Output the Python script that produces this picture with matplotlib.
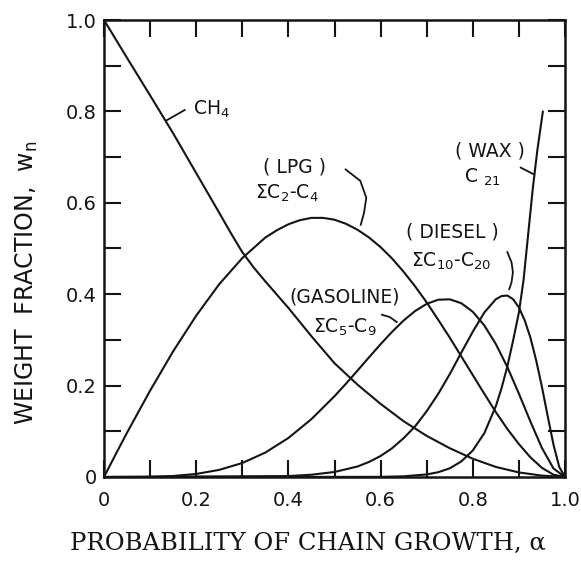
import matplotlib
matplotlib.use("Agg")
import matplotlib.pyplot as plt
from matplotlib.ticker import MultipleLocator

# values (alpha -> weight fraction)
alpha_ch4 = [0, 0.05, 0.1, 0.15, 0.2, 0.25, 0.275, 0.3, 0.325, 0.35, 0.4, 0.45, 0.5,
             0.55, 0.6, 0.65, 0.7, 0.75, 0.8, 0.85, 0.9, 0.95, 1.0]
w_ch4 = [1.0, 0.917, 0.835, 0.752, 0.665, 0.578, 0.534, 0.492, 0.458, 0.428, 0.370,
         0.308, 0.249, 0.202, 0.160, 0.122, 0.090, 0.063, 0.040, 0.022, 0.010, 0.003, 0.0]

alpha_lpg = [0, 0.025, 0.05, 0.1, 0.15, 0.2, 0.25, 0.3, 0.35, 0.375, 0.4, 0.425, 0.45,
             0.475, 0.5, 0.525, 0.55, 0.575, 0.6, 0.625, 0.65, 0.675, 0.7, 0.725,
             0.75, 0.775, 0.8, 0.825, 0.85, 0.875, 0.9, 0.925, 0.95, 0.975, 1.0]
w_lpg = [0, 0.049, 0.097, 0.189, 0.275, 0.353, 0.422, 0.479, 0.524, 0.540, 0.553, 0.562,
         0.567, 0.567, 0.563, 0.554, 0.541, 0.524, 0.503, 0.478, 0.449, 0.417, 0.382,
         0.344, 0.305, 0.264, 0.223, 0.182, 0.142, 0.105, 0.072, 0.043, 0.020, 0.005, 0.0]

alpha_gas = [0, 0.1, 0.15, 0.2, 0.25, 0.3, 0.35, 0.4, 0.45, 0.5, 0.525, 0.55, 0.575,
             0.6, 0.625, 0.65, 0.675, 0.7, 0.725, 0.75, 0.775, 0.8, 0.825, 0.85,
             0.875, 0.9, 0.925, 0.95, 0.975, 1.0]
w_gas = [0, 0.0005, 0.0022, 0.0067, 0.0156, 0.0306, 0.0535, 0.0854, 0.1267, 0.1768,
         0.2043, 0.2330, 0.2620, 0.2906, 0.3178, 0.3425, 0.3633, 0.3789, 0.3879,
         0.3888, 0.3803, 0.3615, 0.3316, 0.2909, 0.2404, 0.1824, 0.1213, 0.0635,
         0.0187, 0.0]

alpha_diesel = [0, 0.4, 0.45, 0.5, 0.55, 0.575, 0.6, 0.625, 0.65, 0.675, 0.7, 0.725,
                0.75, 0.775, 0.8, 0.825, 0.85, 0.8625, 0.875, 0.8875, 0.9, 0.9125,
                0.925, 0.9375, 0.95, 0.9625, 0.975, 0.9875, 1.0]
w_diesel = [0, 0.002, 0.005, 0.011, 0.023, 0.033, 0.046, 0.063, 0.085, 0.111, 0.144,
            0.182, 0.225, 0.272, 0.318, 0.360, 0.389, 0.396, 0.397, 0.389, 0.371,
            0.343, 0.305, 0.255, 0.197, 0.133, 0.071, 0.022, 0.0]

alpha_wax = [0, 0.6, 0.65, 0.7, 0.725, 0.75, 0.775, 0.8, 0.825, 0.85, 0.8625, 0.875,
             0.8875, 0.9, 0.91, 0.92, 0.93, 0.94, 0.952]
w_wax = [0, 0.0003, 0.0015, 0.0056, 0.0105, 0.019, 0.034, 0.058, 0.096, 0.155, 0.195,
         0.242, 0.299, 0.360, 0.430, 0.530, 0.630, 0.715, 0.80]

tick_values = [0, 0.2, 0.4, 0.6, 0.8, 1.0]
tick_labels = ["0", "0.2", "0.4", "0.6", "0.8", "1.0"]

ink = "#141414"
plt.rcParams["font.family"] = ["DejaVu Sans"]

fig = plt.figure(figsize=(5.81, 5.61), dpi=100)
ax = fig.add_axes([104 / 581, 1 - 477 / 561, 461 / 581, 457 / 561])

for xs, ys in [(alpha_ch4, w_ch4), (alpha_lpg, w_lpg), (alpha_gas, w_gas),
               (alpha_diesel, w_diesel), (alpha_wax, w_wax)]:
    ax.plot(xs, ys, color=ink, lw=1.5, solid_joinstyle="round",
            solid_capstyle="round", clip_on=False)

ax.set_xlim(0, 1)
ax.set_ylim(0, 1)
ax.set_xticks(tick_values)
ax.set_xticklabels(tick_labels)
ax.set_yticks(tick_values)
ax.set_yticklabels(tick_labels)
ax.xaxis.set_minor_locator(MultipleLocator(0.1))
ax.yaxis.set_minor_locator(MultipleLocator(0.1))
ax.tick_params(which="both", direction="in", length=12, width=1.5, color=ink,
               top=True, right=True)
ax.tick_params(axis="x", which="major", pad=10, labelsize=14, labelcolor=ink)
ax.tick_params(axis="y", which="major", pad=5, labelsize=14, labelcolor=ink)
for s in ax.spines.values():
    s.set_linewidth(1.8)
    s.set_color(ink)

# curve labels
txt = dict(color=ink, fontsize=13.5)
ax.text(0.193, 0.805, r"CH$\mathregular{_4}$", ha="left", va="center", **txt)
ax.plot([0.135, 0.175], [0.780, 0.803], color=ink, lw=1.3)

ax.text(0.344, 0.679, "( LPG )", ha="left", va="center", **txt)
ax.text(0.328, 0.620, r"$\mathregular{\Sigma C_2}$-$\mathregular{C_4}$",
        ha="left", va="center", **txt)
ax.plot([0.524, 0.556, 0.569, 0.564, 0.557], [0.673, 0.648, 0.611, 0.578, 0.552],
        color=ink, lw=1.3)

ax.text(0.523, 0.393, "(GASOLINE)", ha="center", va="center", **txt)
ax.text(0.522, 0.327, r"$\mathregular{\Sigma C_5}$-$\mathregular{C_9}$",
        ha="center", va="center", **txt)
ax.plot([0.603, 0.620, 0.635], [0.355, 0.350, 0.339], color=ink, lw=1.3)

ax.text(0.755, 0.537, "( DIESEL )", ha="center", va="center", **txt)
ax.text(0.754, 0.471, r"$\mathregular{\Sigma C_{10}}$-$\mathregular{C_{20}}$",
        ha="center", va="center", **txt)
ax.plot([0.875, 0.884, 0.887, 0.884, 0.879], [0.492, 0.470, 0.448, 0.426, 0.411],
        color=ink, lw=1.3)

ax.text(0.837, 0.713, "( WAX )", ha="center", va="center", **txt)
ax.text(0.821, 0.656, r"C $\mathregular{_{21}}$", ha="center", va="center", **txt)
ax.plot([0.904, 0.933], [0.677, 0.662], color=ink, lw=1.3)

fig.text(27 / 581, 1 - 283 / 561, "WEIGHT  FRACTION,  $\\mathregular{w_n}$",
         rotation=90, ha="center", va="center", fontsize=17, color=ink)
fig.text(308 / 581, 1 - 543 / 561, "PROBABILITY OF CHAIN GROWTH, α",
         ha="center", va="center", fontsize=17.5, color=ink, family="DejaVu Serif")

fig.savefig("out.png", dpi=100, facecolor="white")
